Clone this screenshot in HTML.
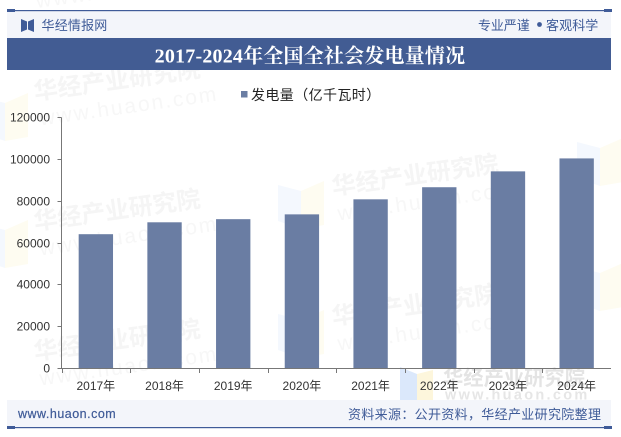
<!DOCTYPE html>
<html lang="zh">
<head>
<meta charset="utf-8">
<title>2017-2024年全国全社会发电量情况</title>
<style>
html,body{margin:0;padding:0;background:#fff;overflow:hidden;}
#stage{position:relative;width:621px;height:437px;overflow:hidden;background:#fff;font-family:"Liberation Sans","Noto Sans CJK SC",sans-serif;}
#stage>svg{position:absolute;left:0;top:0;display:block;}
</style>
</head>
<body>
<div id="stage">
<svg id="chart" width="621" height="437" viewBox="0 0 621 437">
  <g id="watermarks"></g>

  <rect x="7" y="11" width="604" height="27" fill="#f3f5fa"/>
  <rect x="7" y="10" width="604" height="1.2" fill="#3f5b98"/>
  <rect x="7" y="9" width="8" height="3" fill="#3f5b98"/>
  <rect x="604" y="9" width="8" height="3" fill="#3f5b98"/>
  <g>
    <polygon points="21,19 27,21.5 27,29.5 21,32" fill="#3f5b98"/>
    <polygon points="34,19 28,21.5 28,29.5 34,32" fill="#3f5b98"/>
  </g>
  <text x="41.5" y="30" font-size="13" letter-spacing="0.2" fill="#3f5b98">华经情报网</text>
  <text x="478" y="30" font-size="13" letter-spacing="-0.1" fill="#3f5b98">专业严谨</text>
  <circle cx="539.5" cy="24.5" r="2.4" fill="#3f5b98"/>
  <text x="546" y="30" font-size="13" letter-spacing="0.1" fill="#3f5b98">客观科学</text>

  <rect x="7" y="38" width="604" height="32" fill="#425c93"/>
  <text x="310" y="62.5" text-anchor="middle" font-size="20" letter-spacing="0.2" font-weight="700" fill="#ffffff" style="font-family:'Liberation Serif','Noto Serif CJK SC',serif">2017-2024年全国全社会发电量情况</text>

  <g id="legend">
    <rect x="241" y="91" width="6.5" height="6.5" fill="#6a7da3"/>
    <text x="251" y="100" font-size="14" letter-spacing="0.4" fill="#222">发电量（亿千瓦时）</text>
  </g>

  <g id="bars"></g>
  <g id="axes"></g>

  <rect x="7" y="400" width="604" height="27" fill="#f3f5fa"/>
  <rect x="7" y="427" width="604" height="1.2" fill="#3f5b98"/>
  <rect x="7" y="426" width="8" height="3" fill="#3f5b98"/>
  <rect x="604" y="426" width="8" height="3" fill="#3f5b98"/>
  <text x="18" y="418" font-size="12.5" letter-spacing="0.5" fill="#3f5b98" stroke="#3f5b98" stroke-width="0.2">www.huaon.com</text>
  <text x="348" y="419" font-size="13" letter-spacing="0.33" fill="#3f5b98">资料来源：公开资料，华经产业研究院整理</text>
</svg>
</div>
<script>
const categories = ['2017年','2018年','2019年','2020年','2021年','2022年','2023年','2024年'];
const generation = [64100,69800,71300,73600,80800,86600,94200,100400];
const yTicks = [0,20000,40000,60000,80000,100000,120000];
const watermarkSpots = [[35,100],[35,230],[35,360],[333,195],[333,325]];
const logoSpots = [[-18,93],[-18,220],[278,181],[278,310],[577,138],[577,263]];

const NS = 'http://www.w3.org/2000/svg';
const plot = {left:61.5, right:611, top:117.5, bottom:368, yMax:120000};
const xBand = i => plot.left + (plot.right - plot.left) * i / categories.length;
const bandW = (plot.right - plot.left) / categories.length;
const yScale = v => plot.bottom - (plot.bottom - plot.top) * v / plot.yMax;

function mk(tag, attrs, parent, text){
  const el = document.createElementNS(NS, tag);
  for (const k in attrs) el.setAttribute(k, attrs[k]);
  if (text !== undefined) el.textContent = text;
  parent.appendChild(el);
  return el;
}

const wmLayer = document.getElementById('watermarks');
logoSpots.forEach(function(p){
  const g = mk('g', {transform:'translate(' + p[0] + ',' + p[1] + ')'}, wmLayer);
  
  
  mk('polygon', {points:'0,4 23,10 23,48 0,40', fill:'#f4f8fe'}, g);
  mk('polygon', {points:'46,0 23,10 23,48 46,44', fill:'#fefcf1'}, g);
});
watermarkSpots.forEach(function(p){
  const g = mk('g', {transform:'translate(' + p[0] + ',' + p[1] + ') rotate(-8)'}, wmLayer);
  
  
  mk('text', {x:0, y:0, 'font-size':24, 'font-weight':700, fill:'#f5f5f5'}, g, '华经产业研究院');
  mk('text', {x:2, y:26, 'font-size':21, 'letter-spacing':2, fill:'#f7f7f7'}, g, 'www.huaon.com');
});

const topWww = mk('text', {x:37, y:8, 'font-size':21, 'letter-spacing':2, fill:'#f7f7f7', transform:'rotate(-8 37 8)'}, wmLayer, 'www.huaon.com');



const strongLogo = mk('g', {transform:'translate(400,367)'}, wmLayer);


mk('polygon', {points:'0,0 17,7 17,33 0,33', fill:'#dbe8fb'}, strongLogo);
mk('polygon', {points:'33,3 17,7 17,33 33,33', fill:'#fdf6dc'}, strongLogo);

const strongText = mk('text', {x:443, y:385, 'font-size':20.3, 'font-weight':700, fill:'#e4e4e4'}, wmLayer, '华经产业研究院');


const strongUrl = mk('text', {x:445, y:399.5, 'font-size':14.5, 'font-weight':700, 'letter-spacing':2.3, fill:'#e6e6e6'}, wmLayer, 'www.huaon.com');



const barLayer = document.getElementById('bars');
generation.forEach(function(v, i){
  const w = bandW * 0.5;
  const r = mk('rect', {x: xBand(i) + (bandW - w) / 2, y: yScale(v), width: w, height: plot.bottom - yScale(v), fill:'#6a7da3'}, barLayer);
  
  
});

const axes = document.getElementById('axes');
const yAxis = mk('line', {x1:plot.left, x2:plot.left, y1:plot.top, y2:plot.bottom, stroke:'#777', 'stroke-width':1}, axes);


const xAxis = mk('line', {x1:plot.left - 4, x2:plot.right, y1:plot.bottom + 0.5, y2:plot.bottom + 0.5, stroke:'#777', 'stroke-width':1}, axes);



yTicks.forEach(function(t){
  const y = Math.floor(yScale(t) + 0.3) + 0.5;
  const tick = mk('line', {x1:plot.left - 4, x2:plot.left, y1:y, y2:y, stroke:'#777', 'stroke-width':1}, axes);
  
  
  const label = mk('text', {x:50, y:y + 4, 'text-anchor':'end', 'font-size':12, fill:'#333'}, axes, String(t));
  
  
});

categories.forEach(function(c, i){
  const x = Math.round(xBand(i)) + 0.5;
  const tick = mk('line', {x1:x, x2:x, y1:plot.bottom, y2:plot.bottom + 5, stroke:'#777', 'stroke-width':1}, axes);
  
  
  const label = mk('text', {x: xBand(i) + bandW / 2, y:390, 'text-anchor':'middle', 'font-size':12, fill:'#333'}, axes, c);
  
  
});
</script>
</body>
</html>
